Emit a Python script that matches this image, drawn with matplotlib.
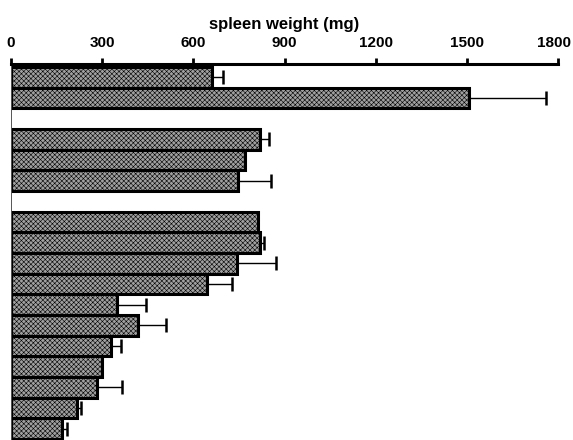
import matplotlib.pyplot as plt
import matplotlib.transforms as mtransforms
import numpy as np

plt.rcParams['font.family'] = ['Liberation Sans', 'DejaVu Sans']
plt.rcParams['hatch.linewidth'] = 0.4

# slot index of each bar (top to bottom), gaps at 2 and 6
slots = [0, 1, 3, 4, 5, 7, 8, 9, 10, 11, 12, 13, 14, 15, 16, 17]
weights = [662, 1507, 819, 770, 747, 813, 819, 744, 645, 349, 418, 329, 300, 283, 218, 168]
errors = [35, 253, 30, 0, 108, 0, 13, 128, 83, 95, 92, 33, 0, 82, 12, 16]

FILL = '#a0a0a0'

fig = plt.figure(figsize=(5.73, 4.4), dpi=100)
ax = fig.add_axes([0.0192, 0.0, 0.955, 0.8545])

y = np.array(slots)
w = np.array(weights, dtype=float)
e = np.array(errors, dtype=float)

ax.barh(y, w, height=1.0, color=FILL, edgecolor='black', linewidth=2.2,
        hatch='xxxxxxx', zorder=2)

m = e > 0
ax.errorbar(w[m], y[m], xerr=[np.zeros(m.sum()), e[m]], fmt='none',
            ecolor='black', elinewidth=1.0, capsize=5, capthick=1.8, zorder=1)

ax.set_xlim(0, 1800)
ax.set_ylim(17.55, -0.65)
ax.set_xticks([0, 300, 600, 900, 1200, 1500, 1800])
ax.xaxis.tick_top()
ax.xaxis.set_label_position('top')
ax.set_xlabel('spleen weight (mg)', fontsize=12, fontweight='bold', labelpad=5)
ax.tick_params(axis='x', direction='out', length=4, width=2, labelsize=11, pad=6)
labels = ax.get_xticklabels()
for lbl in labels:
    lbl.set_fontweight('bold')
# keep the last label inside the figure
labels[-1].set_transform(labels[-1].get_transform() +
                         mtransforms.ScaledTranslation(-4 / 100, 0, fig.dpi_scale_trans))
ax.set_yticks([])

ax.spines['top'].set_linewidth(2.2)
ax.spines['left'].set_linewidth(0.7)
ax.spines['left'].set_color('#555555')
ax.spines['right'].set_visible(False)
ax.spines['bottom'].set_visible(False)

fig.savefig('out.png', dpi=100)
